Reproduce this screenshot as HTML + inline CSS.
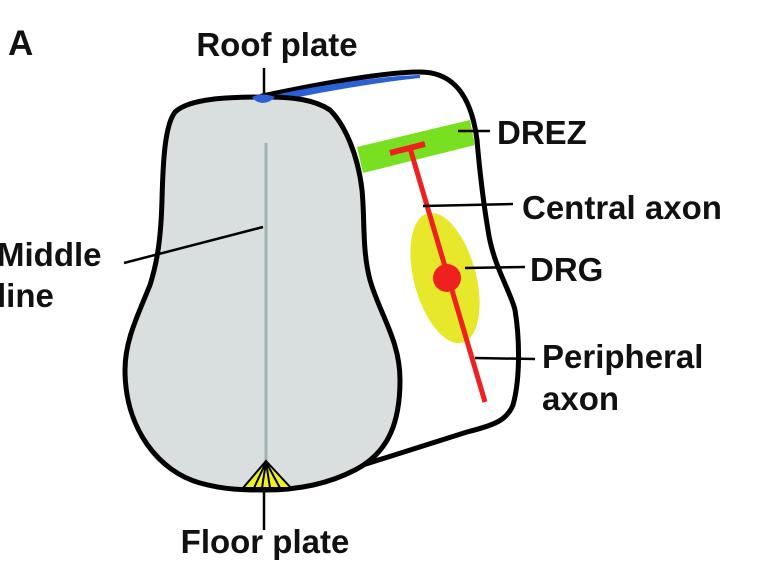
<!DOCTYPE html>
<html><head><style>body{margin:0;background:#fff}svg{display:block}text{font-family:"Liberation Sans",sans-serif;font-weight:bold;fill:#111}</style></head>
<body>
<svg width="758" height="561" viewBox="0 0 758 561" xmlns="http://www.w3.org/2000/svg">
<!-- right outer shape -->
<path d="M262,96 C300,88 380,72 420,72 C445,72 470,85 477,140 C480,175 483,200 488,230 C493,265 510,290 515,310 C520,340 520,380 513,405 C507,420 495,425 467,432 L347,470 Z" fill="#fff" stroke="#000" stroke-width="5" stroke-linejoin="round"/>
<path d="M270,96 C320,85 380,76 420,75 L420,78 C380,82 320,92 285,100 Z" fill="#2a62d6"/>
<!-- green band -->
<polygon points="357,147 470,120 475,145 363,173" fill="#79e021"/>
<!-- DRG -->
<ellipse cx="445" cy="278" rx="31" ry="67" transform="rotate(-15 445 278)" fill="#e8e82a"/>
<line x1="410" y1="148" x2="485" y2="402" stroke="#ee2020" stroke-width="5"/>
<line x1="390" y1="153" x2="425" y2="144" stroke="#ee2020" stroke-width="6"/>
<circle cx="447" cy="278" r="14" fill="#ee2020"/>
<!-- main body -->
<path d="M265,97 C230,97 190,98 175,112 C165,125 163,160 162,200 C161,235 158,260 150,285 C138,315 125,340 125,370 C125,430 160,472 200,483 C225,490 245,490 265,490 C300,490 330,483 355,470 C390,452 400,420 400,380 C400,340 380,315 370,280 C362,250 365,220 362,190 C358,155 345,125 330,110 C315,100 295,97 265,97 Z" fill="#d9dfde" stroke="#000" stroke-width="5"/>
<path d="M252,97 Q262,92 275,97 Q270,103 262,103 Q255,102 252,97Z" fill="#2a62d6"/>
<line x1="266" y1="143" x2="266" y2="462" stroke="#9fb0b4" stroke-width="3"/>
<!-- floor plate -->
<polygon points="266,461 243,488 291,488" fill="#f0f020" stroke="#000" stroke-width="2"/>
<path d="M266,462 L254,488 M266,462 L262,488 M266,462 L270,488 M266,462 L280,488" stroke="#000" stroke-width="2"/>
<!-- leader lines -->
<g stroke="#000" stroke-width="2.5">
<line x1="264" y1="68" x2="264" y2="93"/>
<line x1="458" y1="131" x2="490" y2="131"/>
<line x1="423" y1="206" x2="513" y2="204"/>
<line x1="465" y1="268" x2="525" y2="267"/>
<line x1="475" y1="358" x2="535" y2="359"/>
<line x1="124" y1="263" x2="263" y2="227"/>
<line x1="264" y1="490" x2="264" y2="530"/>
</g>
<text x="8" y="55" font-size="35">A</text>
<text x="277" y="56" font-size="33" text-anchor="middle">Roof plate</text>
<text x="497" y="144" font-size="33">DREZ</text>
<text x="522" y="219" font-size="33">Central axon</text>
<text x="530" y="281" font-size="33">DRG</text>
<text x="542" y="368" font-size="33">Peripheral</text>
<text x="542" y="410" font-size="33">axon</text>
<text x="-3" y="266" font-size="33">Middle</text>
<text x="-3" y="307" font-size="33">line</text>
<text x="265" y="553" font-size="33" text-anchor="middle">Floor plate</text>
</svg>
</body></html>
